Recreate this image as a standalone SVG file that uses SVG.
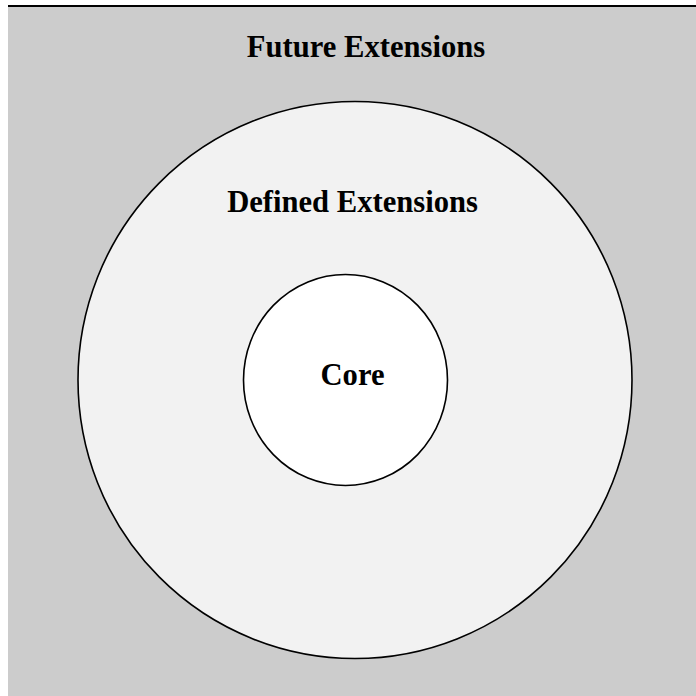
<svg xmlns="http://www.w3.org/2000/svg" width="696" height="696" viewBox="0 0 696 696">
  <style>
    .ring { stroke: #000000; stroke-width: 1.6; }
    .label { font-family: "Liberation Serif", "Times New Roman", serif; font-weight: bold; font-size: 30.6px; fill: #000000; text-anchor: middle; }
  </style>
  <rect x="0" y="0" width="696" height="696" fill="#FFFFFF"/>
  <g id="future-extensions">
    <rect x="8" y="6" width="688" height="690" fill="#CCCCCC"/>
    <line x1="8" y1="6" x2="696" y2="6" stroke="#000000" stroke-width="2"/>
    <text class="label" x="366" y="57">Future Extensions</text>
  </g>
  <g id="defined-extensions">
    <ellipse class="ring" cx="355" cy="380" rx="277" ry="278.5" fill="#F2F2F2"/>
    <text class="label" x="352.5" y="212">Defined Extensions</text>
  </g>
  <g id="core">
    <ellipse class="ring" cx="345.5" cy="380" rx="102" ry="105.5" fill="#FFFFFF"/>
    <text class="label" x="352.5" y="385">Core</text>
  </g>
  <g id="connectors"></g>
</svg>
